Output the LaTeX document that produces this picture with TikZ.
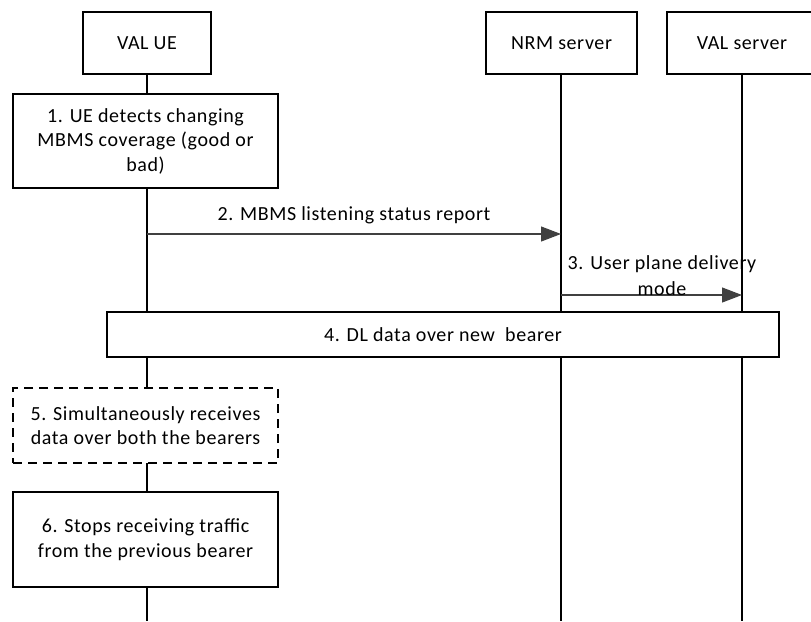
\documentclass[tikz,border=0pt]{standalone}
\usepackage{fontspec}
\setmainfont{Carlito}[LetterSpace=3]
\usetikzlibrary{arrows.meta,backgrounds}
\begin{document}
\begin{tikzpicture}[x=1pt,y=-1pt,
  box/.style={draw=black,line width=1.1pt,fill=white,rectangle,align=center,inner sep=0pt,
    font=\fontsize{20}{24.5}\selectfont},
  lbl/.style={align=center,inner sep=0pt,font=\fontsize{20}{26}\selectfont},
  life/.style={draw=black,line width=1.1pt},
  msg/.style={draw=black!75,line width=1.1pt,-{Triangle[length=20pt,width=15pt]}}]
\useasboundingbox (0,0) rectangle (811,621);
% heads
\node[box,minimum width=128pt,minimum height=62pt] (ue) at (147,43) {VAL UE};
\node[box,minimum width=151pt,minimum height=62pt] (nrm) at (561.5,43) {NRM server};
\node[box,minimum width=150pt,minimum height=62pt] (vals) at (742,43) {VAL server};
% end points of lifelines
\coordinate (ueEnd) at (147,621);
\coordinate (nrmEnd) at (561,621);
\coordinate (valEnd) at (742,621);
% step boxes
\node[box,minimum width=265pt,minimum height=94pt] (s1) at (145.5,141)
  {1. UE detects changing\\MBMS coverage (good or\\bad)};
\node[box,minimum width=672pt,minimum height=45pt] (s4) at (443,334.5)
  {4. DL data over new\ \ bearer};
\node[box,dashed,dash pattern=on 9pt off 6pt,minimum width=265pt,minimum height=75pt] (s5) at (145.5,425.5)
  {5. Simultaneously receives\\data over both the bearers};
\node[box,minimum width=265pt,minimum height=95pt] (s6) at (145.5,539.5)
  {6. Stops receiving traffic\\from the previous bearer};
% message anchors
\coordinate (m2a) at (147,234);
\coordinate (m2b) at (561,234);
\coordinate (m3a) at (561,295);
\coordinate (m3b) at (742,295);
\begin{scope}[on background layer]
  \draw[life] (ue.south) -- (ueEnd);
  \draw[life] (nrm.south -| nrmEnd) -- (nrmEnd);
  \draw[life] (vals.south) -- (valEnd);
\end{scope}
\draw[msg] (m2a) -- (m2b);
\node[lbl] (l2) at (354,215) {2. MBMS listening status report};
\draw[msg] (m3a) -- (m3b);
\node[lbl] (l3) at (662,276) {3. User plane delivery\\mode};
\end{tikzpicture}
\end{document}
